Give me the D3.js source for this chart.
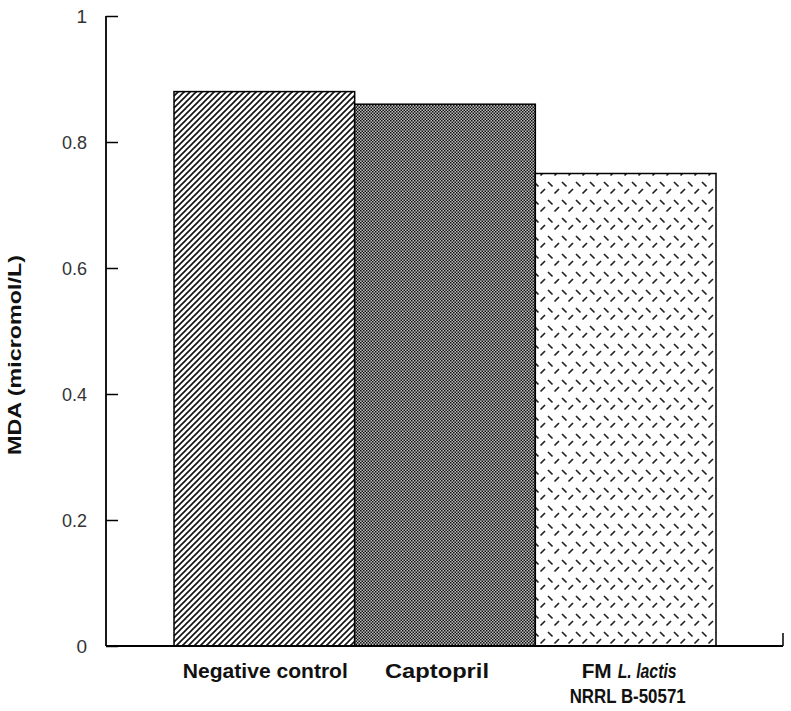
<!DOCTYPE html>
<html><head><meta charset="utf-8">
<script src="https://cdn.jsdelivr.net/npm/d3@7"></script>
<style>body{margin:0;background:#fff}svg{display:block}</style>
</head><body>
<script>
const categories = ["Negative control", "Captopril", "FM L. lactis NRRL B-50571"];
const values = [0.88, 0.86, 0.75];
const yTicks = [0, 0.2, 0.4, 0.6, 0.8, 1];
const yTickLabels = ["0", "0.2", "0.4", "0.6", "0.8", "1"];
const yLabel = "MDA (micromol/L)";

const W = 791, H = 711;
const svg = d3.select("body").append("svg").attr("width", W).attr("height", H);
const defs = svg.append("defs");

// pattern 1: diagonal hatching
const p1 = defs.append("pattern").attr("id", "p1").attr("patternUnits", "userSpaceOnUse")
  .attr("width", 6).attr("height", 6);
p1.append("rect").attr("width", 6).attr("height", 6).attr("fill", "#fff");
p1.append("path").attr("d", "M-1,7 L7,-1 M-4,4 L4,-4 M2,10 L10,2")
  .attr("stroke", "#111").attr("stroke-width", 1.6);

// pattern 2: fine checker
const p2 = defs.append("pattern").attr("id", "p2").attr("patternUnits", "userSpaceOnUse")
  .attr("width", 3).attr("height", 3);
p2.append("rect").attr("width", 3).attr("height", 3).attr("fill", "#bdbdbd");
p2.append("rect").attr("width", 1.5).attr("height", 1.5).attr("fill", "#111");
p2.append("rect").attr("x", 1.5).attr("y", 1.5).attr("width", 1.5).attr("height", 1.5).attr("fill", "#111");

// pattern 3: alternating dashes
const p3 = defs.append("pattern").attr("id", "p3").attr("patternUnits", "userSpaceOnUse")
  .attr("width", 14).attr("height", 18);
p3.append("rect").attr("width", 14).attr("height", 18).attr("fill", "#fff");
p3.append("path").attr("d", "M2,2 L6.5,6.5 M8.5,13.5 L13,9")
  .attr("stroke", "#222").attr("stroke-width", 1.7);

const fills = ["url(#p1)", "url(#p2)", "url(#p3)"];

const axisLeftX = 106, axisRightX = 783;
const y = d3.scaleLinear().domain([0, 1]).range([646, 16]);
const x = d3.scaleBand().domain(categories).range([174, 716]).padding(0);

// bars
svg.selectAll("rect.bar").data(categories).enter().append("rect")
  .attr("class", "bar")
  .attr("x", d => x(d))
  .attr("y", (d, i) => y(values[i]))
  .attr("width", x.bandwidth())
  .attr("height", (d, i) => y(0) - y(values[i]))
  .attr("fill", (d, i) => fills[i])
  .attr("stroke", "#000").attr("stroke-width", 1.5);

// y axis
const yAxis = d3.axisRight(y).tickValues(yTicks).tickSize(12).tickFormat("");
const ga = svg.append("g").attr("transform", `translate(${axisLeftX},0)`).call(yAxis);
ga.select(".domain").remove();
ga.selectAll(".tick line").attr("stroke", "#000").attr("stroke-width", 1.5);
svg.append("line").attr("x1", axisLeftX).attr("x2", axisLeftX).attr("y1", y(1)).attr("y2", y(0))
  .attr("stroke", "#000").attr("stroke-width", 1.8);

const font = "Liberation Sans, Arial, sans-serif";

// tick labels
svg.selectAll("text.yt").data(yTicks).enter().append("text")
  .attr("x", 87).attr("y", d => y(d) + 7)
  .attr("text-anchor", "end")
  .attr("font-family", font).attr("font-size", 19)
  .attr("fill", "#333")
  .each(function (d, i) {
    const s = d3.select(this).text(yTickLabels[i]);
    if (yTickLabels[i].length > 1) s.attr("textLength", 25).attr("lengthAdjust", "spacingAndGlyphs");
  });

// x axis
svg.append("line").attr("x1", axisLeftX).attr("x2", axisRightX).attr("y1", y(0)).attr("y2", y(0))
  .attr("stroke", "#000").attr("stroke-width", 1.8);
svg.append("line").attr("x1", axisRightX).attr("x2", axisRightX).attr("y1", y(0)).attr("y2", y(0) - 13)
  .attr("stroke", "#000").attr("stroke-width", 1.5);

// category labels
const lab = svg.append("g").attr("font-family", font).attr("font-size", 21).attr("font-weight", "bold")
  .attr("fill", "#111");
const c0 = x(categories[0]) + x.bandwidth() / 2;
const c1 = x(categories[1]) + x.bandwidth() / 2;
const c2 = x(categories[2]) + x.bandwidth() / 2;
lab.append("text").attr("x", c0 + 1).attr("y", 678).attr("text-anchor", "middle")
  .attr("textLength", 165).attr("lengthAdjust", "spacingAndGlyphs").text("Negative control");
lab.append("text").attr("x", c1 - 8).attr("y", 678).attr("text-anchor", "middle")
  .attr("textLength", 104).attr("lengthAdjust", "spacingAndGlyphs").text("Captopril");
lab.append("text").attr("x", c2 - 44).attr("y", 678).attr("text-anchor", "start")
  .attr("textLength", 30).attr("lengthAdjust", "spacingAndGlyphs").text("FM");
lab.append("text").attr("x", c2 - 8).attr("y", 678).attr("text-anchor", "start")
  .attr("font-style", "italic")
  .attr("textLength", 59).attr("lengthAdjust", "spacingAndGlyphs").text("L. lactis");
lab.append("text").attr("x", c2 + 2).attr("y", 703).attr("text-anchor", "middle")
  .attr("textLength", 116).attr("lengthAdjust", "spacingAndGlyphs").text("NRRL B-50571");

// y label
svg.append("text").attr("transform", `translate(21,355) rotate(-90)`)
  .attr("text-anchor", "middle").attr("font-family", font).attr("font-size", 18).attr("font-weight", "bold")
  .attr("textLength", 200).attr("lengthAdjust", "spacingAndGlyphs")
  .attr("fill", "#111").text(yLabel);
</script>
</body></html>
